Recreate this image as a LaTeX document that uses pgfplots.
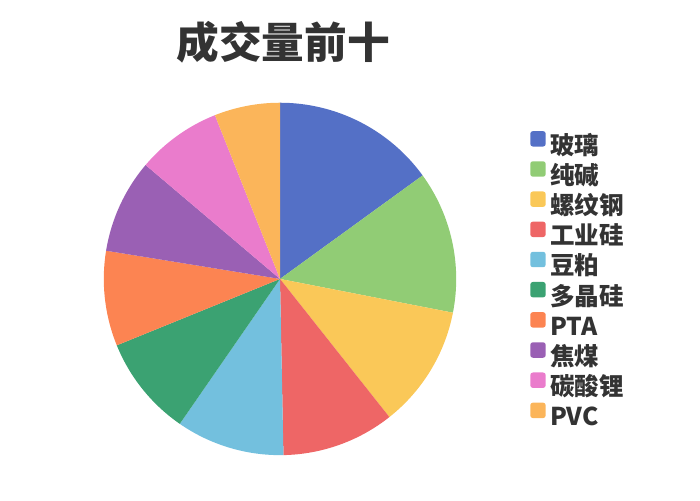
\documentclass[border=0pt]{standalone}
\usepackage{pgfplots}
\pgfplotsset{compat=1.18}
\usepackage{pgfplotstable}
\usepackage{fontspec}
\setmainfont{Noto Sans CJK SC}

\definecolor{c1}{HTML}{5470C6}
\definecolor{c2}{HTML}{91CC75}
\definecolor{c3}{HTML}{FAC858}
\definecolor{c4}{HTML}{EE6666}
\definecolor{c5}{HTML}{73C0DE}
\definecolor{c6}{HTML}{3BA272}
\definecolor{c7}{HTML}{FC8452}
\definecolor{c8}{HTML}{9A60B4}
\definecolor{c9}{HTML}{EA7CCC}
\definecolor{c10}{HTML}{FBB55A}
\definecolor{txt}{HTML}{333333}

% share of each product, in percent
\pgfplotstableread{
value color
15.01 c1
13.06 c2
11.27 c3
10.35 c4
9.94  c5
9.22  c6
8.71  c7
8.63  c8
7.79  c9
6.02  c10
}\piedata

\begin{document}
\begin{tikzpicture}
\path[use as bounding box] (0,0) rectangle (525pt,375pt);
\begin{axis}[
    at={(210pt,165.8pt)}, anchor=center,
    scale only axis,
    width=264.3pt, height=264.3pt,
    xmin=-1, xmax=1, ymin=-1, ymax=1,
    hide axis,
    title={成交量前十},
    title style={at={(0.5,1)}, anchor=center, yshift=39.5pt, xshift=2.4pt,
        font=\bfseries\fontsize{32}{36}\selectfont, text=txt},
    legend image code/.code={\fill[#1, draw=none, rounded corners=2pt] (0pt,1.2pt) rectangle (11.6pt,12.8pt);},
    legend cell align=left,
    legend style={at={(1.2094,0.9203)}, anchor=north west, draw=none, fill=none,
        inner sep=0pt, row sep=1.33pt, column sep=3.3pt,
        font=\bfseries\fontsize{18.4}{21}\selectfont, text=txt,
        nodes={inner sep=0pt, text height=13pt, text depth=4pt}},
]
\pgfplotsextra{%
  \xdef\cum{0}%
  \foreach \i in {0,...,9}{%
    \pgfplotstablegetelem{\i}{value}\of\piedata
    \let\v\pgfplotsretval
    \pgfplotstablegetelem{\i}{color}\of\piedata
    \let\col\pgfplotsretval
    \pgfmathsetmacro\a{90-3.6*\cum}%
    \pgfmathsetmacro\b{90-3.6*(\cum+\v)}%
    \fill[\col] (axis cs:0,0) -- (axis cs:{cos(\a)},{sin(\a)}) arc[start angle=\a, end angle=\b, radius=1];
    \pgfmathsetmacro\c{\cum+\v}%
    \xdef\cum{\c}%
  }%
}
\addlegendimage{fill=c1}\addlegendentry{玻璃}
\addlegendimage{fill=c2}\addlegendentry{纯碱}
\addlegendimage{fill=c3}\addlegendentry{螺纹钢}
\addlegendimage{fill=c4}\addlegendentry{工业硅}
\addlegendimage{fill=c5}\addlegendentry{豆粕}
\addlegendimage{fill=c6}\addlegendentry{多晶硅}
\addlegendimage{fill=c7}\addlegendentry{PTA}
\addlegendimage{fill=c8}\addlegendentry{焦煤}
\addlegendimage{fill=c9}\addlegendentry{碳酸锂}
\addlegendimage{fill=c10}\addlegendentry{PVC}
\end{axis}
\end{tikzpicture}
\end{document}
